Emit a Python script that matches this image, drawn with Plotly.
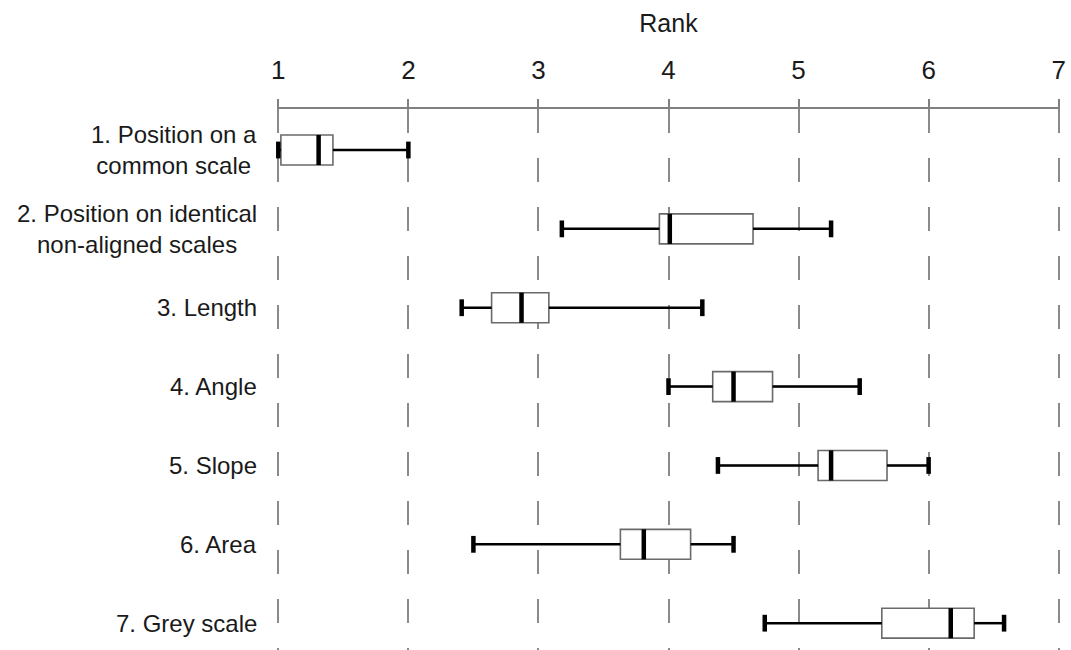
import plotly.graph_objects as go

# ---- data ----
labels = [
    "1. Position on a<br>common scale",
    "2. Position on identical<br>non-aligned scales",
    "3. Length",
    "4. Angle",
    "5. Slope",
    "6. Area",
    "7. Grey scale",
]
lower_whisker = [1.00, 3.18, 2.41, 4.00, 4.38, 2.50, 4.74]
q1_vals       = [1.02, 3.93, 2.64, 4.34, 5.15, 3.63, 5.64]
median_vals   = [1.31, 4.01, 2.87, 4.50, 5.25, 3.81, 6.17]
q3_vals       = [1.42, 4.65, 3.08, 4.80, 5.68, 4.17, 6.35]
upper_whisker = [2.00, 5.25, 4.26, 5.47, 6.00, 4.50, 6.58]
rank_ticks    = [1, 2, 3, 4, 5, 6, 7]

FONT = "Liberation Sans, Arial, sans-serif"
TXT = "#1a1a1a"

fig = go.Figure()

# boxes
fig.add_trace(go.Box(
    y=labels, q1=q1_vals, median=median_vals, q3=q3_vals,
    lowerfence=lower_whisker, upperfence=upper_whisker,
    orientation="h", width=0.38, whiskerwidth=0,
    fillcolor="white", line=dict(color="#6a6a6a", width=1.6),
    boxpoints=False, showlegend=False, hoverinfo="skip",
))

# whiskers
wx, wy = [], []
for lab, lo, a, b, hi in zip(labels, lower_whisker, q1_vals, q3_vals, upper_whisker):
    wx += [lo, a, None, b, hi, None]
    wy += [lab, lab, None, lab, lab, None]
fig.add_trace(go.Scatter(
    x=wx, y=wy, mode="lines", line=dict(color="black", width=2.5),
    showlegend=False, hoverinfo="skip", cliponaxis=False,
))

# whisker caps
fig.add_trace(go.Scatter(
    x=lower_whisker + upper_whisker, y=labels + labels, mode="markers",
    marker=dict(symbol="line-ns", size=12, line=dict(color="black", width=4.5)),
    showlegend=False, hoverinfo="skip", cliponaxis=False,
))

# medians
fig.add_trace(go.Scatter(
    x=median_vals, y=labels, mode="markers",
    marker=dict(symbol="line-ns", size=21.5, line=dict(color="black", width=4.5)),
    showlegend=False, hoverinfo="skip", cliponaxis=False,
))

# row labels (centred multi-line text, right edge next to the plot)
for i, lab in enumerate(labels):
    fig.add_annotation(
        x=0, xref="paper", xanchor="right", xshift=-18,
        y=i, yref="y", yanchor="middle",
        text=lab, align="center", showarrow=False,
        font=dict(family=FONT, size=24, color=TXT),
    )

fig.update_layout(
    width=1071, height=650,
    margin=dict(l=277, r=11, t=109, b=0),
    paper_bgcolor="white", plot_bgcolor="white",
    font=dict(family=FONT, color=TXT),
    xaxis=dict(
        side="top", range=[0.99, 7.01],
        tickvals=rank_ticks, ticktext=[str(t) for t in rank_ticks],
        tickfont=dict(size=26, color=TXT, family=FONT),
        ticks="outside", ticklen=8, tickwidth=1.5, tickcolor="#808080",
        ticklabelstandoff=10,
        showline=True, linecolor="#808080", linewidth=2,
        showgrid=True, gridcolor="#8a8a8a", gridwidth=1.5, griddash="24px,25px",
        zeroline=False,
        title=dict(text="Rank", font=dict(size=25, color=TXT, family=FONT), standoff=15),
    ),
    yaxis=dict(
        type="category", categoryorder="array", categoryarray=labels,
        range=[6.34, -0.52],
        showticklabels=False, showgrid=False, zeroline=False, showline=False, ticks="",
    ),
)

fig.write_html(
    "out.html",
    config={"displayModeBar": False},
    post_script="document.body.style.margin='0';",
)
